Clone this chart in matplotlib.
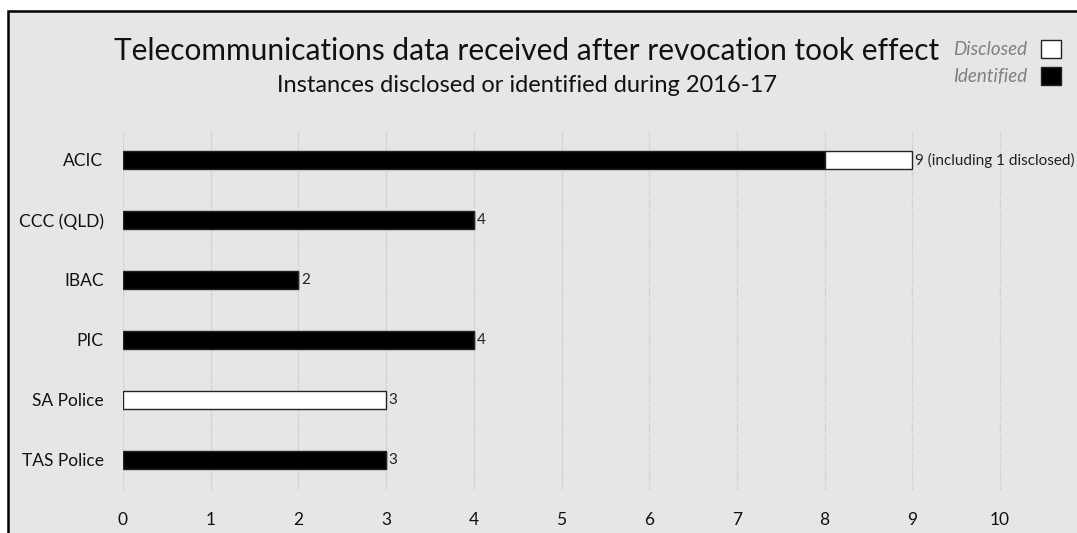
import matplotlib.pyplot as plt
from matplotlib.patches import Rectangle, Patch

agencies = ['ACIC', 'CCC (QLD)', 'IBAC', 'PIC', 'SA Police', 'TAS Police']
identified = [8, 4, 2, 4, 0, 3]
disclosed = [1, 0, 0, 0, 3, 0]
bar_labels = ['9 (including 1 disclosed)', '4', '2', '4', '3', '3']
xticks = [0, 1, 2, 3, 4, 5, 6, 7, 8, 9, 10]

plt.rcParams['font.family'] = ['Lato', 'DejaVu Sans']
W, H = 1077, 533
fig = plt.figure(figsize=(W / 100, H / 100), dpi=100)
fig.patch.set_facecolor('white')

# grey panel with black frame
fig.patches.append(Rectangle((8 / W, -0.1), 1.2, 1.1 - 11 / H, transform=fig.transFigure,
                             facecolor='#e6e6e6', edgecolor='black', linewidth=1.8, zorder=-10))

ax = fig.add_axes([123 / W, 43 / H, (W - 123) / W, 360 / H])
ax.set_facecolor('none')
ypos = range(len(agencies))
ax.barh(ypos, identified, height=0.3, color='black', edgecolor='#222222', linewidth=1, zorder=3)
ax.barh(ypos, disclosed, left=identified, height=0.3, color='white', edgecolor='#222222',
        linewidth=1, zorder=3)
for i, lab in enumerate(bar_labels):
    ax.text(identified[i] + disclosed[i] + 0.03, i, lab, va='center', ha='left',
            fontsize=11, color='#222222')

ax.set_xlim(0, (W - 123) / 87.7)
ax.set_ylim(len(agencies) - 0.5, -0.5)
ax.set_xticks(xticks)
ax.set_yticks(list(ypos))
ax.set_yticklabels(agencies)
ax.tick_params(axis='both', length=0, labelsize=12.5, colors='#111111')
ax.tick_params(axis='x', pad=16)
ax.tick_params(axis='y', pad=14)
for s in ax.spines.values():
    s.set_visible(False)
ax.grid(axis='x', color='#d4d4d4', linewidth=1, linestyle=(0, (6, 1)), zorder=0)

fig.text(527 / W, 1 - 51 / H, 'Telecommunications data received after revocation took effect',
         ha='center', va='center', fontsize=21.5, color='#111111')
fig.text(527 / W, 1 - 85 / H, 'Instances disclosed or identified during 2016-17',
         ha='center', va='center', fontsize=17, color='#111111')

handles = [Patch(facecolor='white', edgecolor='#222222'), Patch(facecolor='black', edgecolor='#222222')]
leg = fig.legend(handles, ['Disclosed', 'Identified'], loc='upper right',
                 bbox_to_anchor=(1078 / W, 1 - 23 / H), markerfirst=False, frameon=False,
                 prop={'style': 'italic', 'size': 13.5}, labelcolor='#808080',
                 handlelength=1.1, handleheight=1.1, handletextpad=0.7, labelspacing=0.45)

fig.savefig('out.png', dpi=100)
